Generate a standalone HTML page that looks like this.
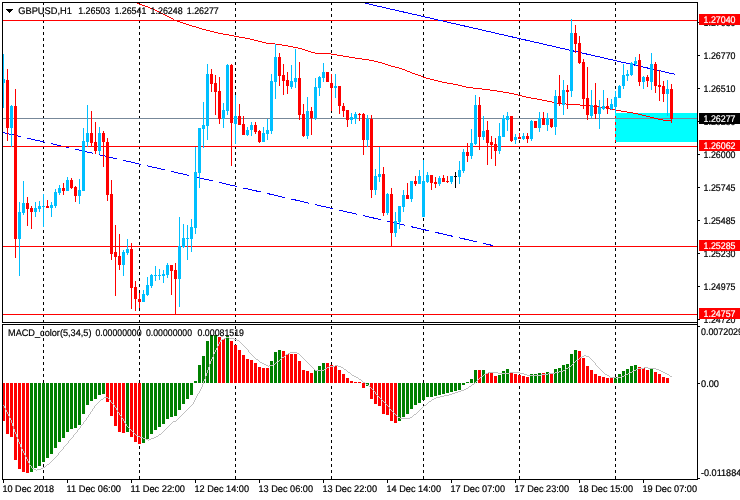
<!DOCTYPE html><html><head><meta charset="utf-8"><title>GBPUSD,H1</title>
<style>html,body{margin:0;padding:0;background:#fff;overflow:hidden}svg{display:block}text{font-family:"Liberation Sans",sans-serif;font-size:9.6px;stroke:#000;stroke-width:0.2px;text-rendering:geometricPrecision}</style></head><body>
<svg width="740" height="500" viewBox="0 0 740 500" shape-rendering="crispEdges">
<rect x="0" y="0" width="740" height="500" fill="#fff"/>
<rect x="615" y="113" width="82" height="29" fill="#00FFFF"/>
<g id="grid">
<line x1="43.5" y1="2" x2="43.5" y2="322" stroke="#000" stroke-width="1" stroke-dasharray="3 3"/>
<line x1="43.5" y1="326" x2="43.5" y2="479" stroke="#000" stroke-width="1" stroke-dasharray="3 3"/>
<line x1="139.5" y1="2" x2="139.5" y2="322" stroke="#000" stroke-width="1" stroke-dasharray="3 3"/>
<line x1="139.5" y1="326" x2="139.5" y2="479" stroke="#000" stroke-width="1" stroke-dasharray="3 3"/>
<line x1="235.5" y1="2" x2="235.5" y2="322" stroke="#000" stroke-width="1" stroke-dasharray="3 3"/>
<line x1="235.5" y1="326" x2="235.5" y2="479" stroke="#000" stroke-width="1" stroke-dasharray="3 3"/>
<line x1="331.5" y1="2" x2="331.5" y2="322" stroke="#000" stroke-width="1" stroke-dasharray="3 3"/>
<line x1="331.5" y1="326" x2="331.5" y2="479" stroke="#000" stroke-width="1" stroke-dasharray="3 3"/>
<line x1="423.5" y1="2" x2="423.5" y2="322" stroke="#000" stroke-width="1" stroke-dasharray="3 3"/>
<line x1="423.5" y1="326" x2="423.5" y2="479" stroke="#000" stroke-width="1" stroke-dasharray="3 3"/>
<line x1="519.5" y1="2" x2="519.5" y2="322" stroke="#000" stroke-width="1" stroke-dasharray="3 3"/>
<line x1="519.5" y1="326" x2="519.5" y2="479" stroke="#000" stroke-width="1" stroke-dasharray="3 3"/>
<line x1="615.5" y1="2" x2="615.5" y2="322" stroke="#000" stroke-width="1" stroke-dasharray="3 3"/>
<line x1="615.5" y1="326" x2="615.5" y2="479" stroke="#000" stroke-width="1" stroke-dasharray="3 3"/>
<line x1="615.5" y1="116" x2="615.5" y2="142" stroke="#f00" stroke-width="1" stroke-dasharray="3 3"/>
</g>
<g id="trend" stroke="#0000FF" stroke-width="1" fill="none">
<line x1="3" y1="132.54" x2="21" y2="136.69"/>
<line x1="27" y1="138.08" x2="45" y2="142.23"/>
<line x1="51" y1="143.61" x2="69" y2="147.76"/>
<line x1="75" y1="149.15" x2="93" y2="153.30"/>
<line x1="99" y1="154.69" x2="117" y2="158.84"/>
<line x1="123" y1="160.22" x2="141" y2="164.38"/>
<line x1="147" y1="165.76" x2="165" y2="169.91"/>
<line x1="171" y1="171.30" x2="189" y2="175.45"/>
<line x1="195" y1="176.83" x2="213" y2="180.99"/>
<line x1="219" y1="182.37" x2="237" y2="186.52"/>
<line x1="243" y1="187.91" x2="261" y2="192.06"/>
<line x1="267" y1="193.44" x2="285" y2="197.60"/>
<line x1="291" y1="198.98" x2="309" y2="203.13"/>
<line x1="315" y1="204.52" x2="333" y2="208.67"/>
<line x1="339" y1="210.05" x2="357" y2="214.21"/>
<line x1="363" y1="215.59" x2="381" y2="219.74"/>
<line x1="387" y1="221.13" x2="405" y2="225.28"/>
<line x1="411" y1="226.66" x2="429" y2="230.82"/>
<line x1="435" y1="232.20" x2="453" y2="236.35"/>
<line x1="459" y1="237.74" x2="477" y2="241.89"/>
<line x1="483" y1="243.27" x2="493" y2="245.58"/>
</g>
<g id="hlines">
<rect x="3" y="20" width="694" height="1" fill="#FF0000"/>
<rect x="3" y="146" width="694" height="1" fill="#FF0000"/>
<rect x="3" y="246" width="694" height="1" fill="#FF0000"/>
<rect x="3" y="314" width="694" height="1" fill="#FF0000"/>
<rect x="3" y="118" width="694" height="1" fill="#778899"/>
</g>
<g stroke="#0000FF" stroke-width="1" fill="none">
<line x1="365" y1="3.16" x2="675.5" y2="74.42"/>
</g>
<path fill="#FF0000" d="M137 3h2v1h-2zM139 4h3v1h-3zM142 5h3v1h-3zM145 6h3v1h-3zM148 7h2v1h-2zM150 8h3v1h-3zM153 9h2v1h-2zM155 10h2v1h-2zM157 11h2v1h-2zM159 12h2v1h-2zM161 13h2v1h-2zM163 14h2v1h-2zM165 15h2v1h-2zM167 16h2v1h-2zM169 17h2v1h-2zM171 18h2v1h-2zM173 19h1v1h-1zM174 20h3v1h-3zM177 21h3v1h-3zM180 22h3v1h-3zM183 23h3v1h-3zM186 24h3v1h-3zM189 25h3v1h-3zM192 26h4v1h-4zM196 27h3v1h-3zM199 28h3v1h-3zM202 29h4v1h-4zM206 30h4v1h-4zM210 31h4v1h-4zM214 32h4v1h-4zM218 33h5v1h-5zM223 34h6v1h-6zM229 35h5v1h-5zM234 36h5v1h-5zM239 37h6v1h-6zM245 38h5v1h-5zM250 39h4v1h-4zM254 40h4v1h-4zM258 41h4v1h-4zM262 42h4v1h-4zM266 43h9v1h-9zM275 44h7v1h-7zM282 45h6v1h-6zM288 46h5v1h-5zM293 47h5v1h-5zM298 48h4v1h-4zM302 49h3v1h-3zM305 50h3v1h-3zM308 51h3v1h-3zM311 52h4v1h-4zM315 53h16v1h-16zM331 54h6v1h-6zM337 55h6v1h-6zM343 56h6v1h-6zM349 57h6v1h-6zM355 58h7v1h-7zM362 59h7v1h-7zM369 60h5v1h-5zM374 61h4v1h-4zM378 62h4v1h-4zM382 63h3v1h-3zM385 64h3v1h-3zM388 65h3v1h-3zM391 66h4v1h-4zM395 67h4v1h-4zM399 68h3v1h-3zM402 69h3v1h-3zM405 70h2v1h-2zM407 71h3v1h-3zM410 72h2v1h-2zM412 73h3v1h-3zM415 74h3v1h-3zM418 75h3v1h-3zM421 76h2v1h-2zM423 77h3v1h-3zM426 78h4v1h-4zM430 79h4v1h-4zM434 80h4v1h-4zM438 81h4v1h-4zM442 82h5v1h-5zM447 83h6v1h-6zM453 84h5v1h-5zM458 85h4v1h-4zM462 86h4v1h-4zM466 87h7v1h-7zM473 88h9v1h-9zM482 89h8v1h-8zM490 90h7v1h-7zM497 91h6v1h-6zM503 92h6v1h-6zM509 93h5v1h-5zM514 94h4v1h-4zM518 95h4v1h-4zM522 96h4v1h-4zM526 97h5v1h-5zM531 98h6v1h-6zM537 99h5v1h-5zM542 100h5v1h-5zM547 101h5v1h-5zM552 102h4v1h-4zM556 103h10v1h-10zM566 104h14v1h-14zM580 105h10v1h-10zM590 106h9v1h-9zM599 107h7v1h-7zM606 108h4v1h-4zM610 109h5v1h-5zM615 110h6v1h-6zM621 111h6v1h-6zM627 112h6v1h-6zM633 113h5v1h-5zM638 114h4v1h-4zM642 115h4v1h-4zM646 116h4v1h-4zM650 117h4v1h-4zM654 118h4v1h-4zM658 119h5v1h-5zM663 120h9v1h-9z"/>
<g id="candles">
<rect x="3" y="54" width="1" height="54" fill="#00BFFF"/>
<rect x="2" y="79" width="3" height="4" fill="#00BFFF"/>
<rect x="7" y="69" width="1" height="72" fill="#FF0000"/>
<rect x="6" y="80" width="3" height="48" fill="#FF0000"/>
<rect x="11" y="105" width="1" height="42" fill="#00BFFF"/>
<rect x="10" y="106" width="3" height="22" fill="#00BFFF"/>
<rect x="15" y="89" width="1" height="169" fill="#FF0000"/>
<rect x="14" y="106" width="3" height="133" fill="#FF0000"/>
<rect x="19" y="202" width="1" height="74" fill="#00BFFF"/>
<rect x="18" y="212" width="3" height="27" fill="#00BFFF"/>
<rect x="23" y="181" width="1" height="34" fill="#00BFFF"/>
<rect x="22" y="203" width="3" height="10" fill="#00BFFF"/>
<rect x="27" y="197" width="1" height="29" fill="#FF0000"/>
<rect x="26" y="203" width="3" height="6" fill="#FF0000"/>
<rect x="31" y="206" width="1" height="23" fill="#FF0000"/>
<rect x="30" y="208" width="3" height="4" fill="#FF0000"/>
<rect x="35" y="202" width="1" height="15" fill="#00BFFF"/>
<rect x="34" y="208" width="3" height="4" fill="#00BFFF"/>
<rect x="39" y="201" width="1" height="11" fill="#00BFFF"/>
<rect x="38" y="206" width="3" height="3" fill="#00BFFF"/>
<rect x="43" y="194" width="1" height="33" fill="#00BFFF"/>
<rect x="42" y="206" width="3" height="1" fill="#00BFFF"/>
<rect x="47" y="200" width="1" height="8" fill="#FF0000"/>
<rect x="46" y="206" width="3" height="2" fill="#FF0000"/>
<rect x="51" y="202" width="1" height="15" fill="#00BFFF"/>
<rect x="50" y="205" width="3" height="3" fill="#00BFFF"/>
<rect x="55" y="189" width="1" height="19" fill="#00BFFF"/>
<rect x="54" y="192" width="3" height="14" fill="#00BFFF"/>
<rect x="59" y="185" width="1" height="10" fill="#00BFFF"/>
<rect x="58" y="188" width="3" height="5" fill="#00BFFF"/>
<rect x="63" y="183" width="1" height="12" fill="#FF0000"/>
<rect x="62" y="188" width="3" height="3" fill="#FF0000"/>
<rect x="67" y="177" width="1" height="14" fill="#00BFFF"/>
<rect x="66" y="180" width="3" height="11" fill="#00BFFF"/>
<rect x="71" y="178" width="1" height="11" fill="#FF0000"/>
<rect x="70" y="180" width="3" height="8" fill="#FF0000"/>
<rect x="75" y="186" width="1" height="16" fill="#FF0000"/>
<rect x="74" y="187" width="3" height="9" fill="#FF0000"/>
<rect x="79" y="179" width="1" height="25" fill="#00BFFF"/>
<rect x="78" y="190" width="3" height="6" fill="#00BFFF"/>
<rect x="83" y="128" width="1" height="63" fill="#00BFFF"/>
<rect x="82" y="141" width="3" height="50" fill="#00BFFF"/>
<rect x="87" y="105" width="1" height="42" fill="#00BFFF"/>
<rect x="86" y="133" width="3" height="9" fill="#00BFFF"/>
<rect x="91" y="111" width="1" height="35" fill="#FF0000"/>
<rect x="90" y="133" width="3" height="10" fill="#FF0000"/>
<rect x="95" y="122" width="1" height="32" fill="#FF0000"/>
<rect x="94" y="142" width="3" height="9" fill="#FF0000"/>
<rect x="99" y="127" width="1" height="27" fill="#00BFFF"/>
<rect x="98" y="133" width="3" height="18" fill="#00BFFF"/>
<rect x="103" y="131" width="1" height="36" fill="#FF0000"/>
<rect x="102" y="133" width="3" height="9" fill="#FF0000"/>
<rect x="107" y="138" width="1" height="63" fill="#FF0000"/>
<rect x="106" y="142" width="3" height="53" fill="#FF0000"/>
<rect x="111" y="180" width="1" height="80" fill="#FF0000"/>
<rect x="110" y="194" width="3" height="60" fill="#FF0000"/>
<rect x="115" y="225" width="1" height="71" fill="#FF0000"/>
<rect x="114" y="252" width="3" height="5" fill="#FF0000"/>
<rect x="119" y="234" width="1" height="36" fill="#FF0000"/>
<rect x="118" y="256" width="3" height="9" fill="#FF0000"/>
<rect x="123" y="250" width="1" height="26" fill="#00BFFF"/>
<rect x="122" y="252" width="3" height="13" fill="#00BFFF"/>
<rect x="127" y="239" width="1" height="16" fill="#00BFFF"/>
<rect x="126" y="249" width="3" height="4" fill="#00BFFF"/>
<rect x="131" y="243" width="1" height="66" fill="#FF0000"/>
<rect x="130" y="249" width="3" height="39" fill="#FF0000"/>
<rect x="135" y="281" width="1" height="30" fill="#FF0000"/>
<rect x="134" y="287" width="3" height="12" fill="#FF0000"/>
<rect x="139" y="293" width="1" height="15" fill="#FF0000"/>
<rect x="138" y="299" width="3" height="3" fill="#FF0000"/>
<rect x="143" y="290" width="1" height="12" fill="#00BFFF"/>
<rect x="142" y="294" width="3" height="8" fill="#00BFFF"/>
<rect x="147" y="277" width="1" height="19" fill="#00BFFF"/>
<rect x="146" y="285" width="3" height="10" fill="#00BFFF"/>
<rect x="151" y="274" width="1" height="14" fill="#00BFFF"/>
<rect x="150" y="275" width="3" height="11" fill="#00BFFF"/>
<rect x="155" y="266" width="1" height="15" fill="#00BFFF"/>
<rect x="154" y="275" width="3" height="1" fill="#00BFFF"/>
<rect x="159" y="269" width="1" height="11" fill="#00BFFF"/>
<rect x="158" y="275" width="3" height="1" fill="#00BFFF"/>
<rect x="163" y="270" width="1" height="13" fill="#00BFFF"/>
<rect x="162" y="274" width="3" height="2" fill="#00BFFF"/>
<rect x="167" y="263" width="1" height="15" fill="#00BFFF"/>
<rect x="166" y="265" width="3" height="10" fill="#00BFFF"/>
<rect x="171" y="265" width="1" height="30" fill="#FF0000"/>
<rect x="170" y="265" width="3" height="6" fill="#FF0000"/>
<rect x="175" y="263" width="1" height="51" fill="#FF0000"/>
<rect x="174" y="270" width="3" height="9" fill="#FF0000"/>
<rect x="179" y="217" width="1" height="90" fill="#00BFFF"/>
<rect x="178" y="246" width="3" height="33" fill="#00BFFF"/>
<rect x="183" y="224" width="1" height="24" fill="#00BFFF"/>
<rect x="182" y="238" width="3" height="9" fill="#00BFFF"/>
<rect x="187" y="225" width="1" height="35" fill="#00BFFF"/>
<rect x="186" y="238" width="3" height="1" fill="#00BFFF"/>
<rect x="191" y="219" width="1" height="33" fill="#00BFFF"/>
<rect x="190" y="227" width="3" height="12" fill="#00BFFF"/>
<rect x="195" y="147" width="1" height="87" fill="#00BFFF"/>
<rect x="194" y="172" width="3" height="56" fill="#00BFFF"/>
<rect x="199" y="128" width="1" height="60" fill="#00BFFF"/>
<rect x="198" y="128" width="3" height="45" fill="#00BFFF"/>
<rect x="203" y="102" width="1" height="46" fill="#00BFFF"/>
<rect x="202" y="125" width="3" height="4" fill="#00BFFF"/>
<rect x="207" y="64" width="1" height="76" fill="#00BFFF"/>
<rect x="206" y="74" width="3" height="52" fill="#00BFFF"/>
<rect x="211" y="69" width="1" height="23" fill="#FF0000"/>
<rect x="210" y="74" width="3" height="10" fill="#FF0000"/>
<rect x="215" y="75" width="1" height="40" fill="#FF0000"/>
<rect x="214" y="83" width="3" height="9" fill="#FF0000"/>
<rect x="219" y="77" width="1" height="47" fill="#FF0000"/>
<rect x="218" y="91" width="3" height="28" fill="#FF0000"/>
<rect x="223" y="103" width="1" height="25" fill="#00BFFF"/>
<rect x="222" y="110" width="3" height="9" fill="#00BFFF"/>
<rect x="227" y="64" width="1" height="51" fill="#00BFFF"/>
<rect x="226" y="65" width="3" height="46" fill="#00BFFF"/>
<rect x="231" y="64" width="1" height="102" fill="#FF0000"/>
<rect x="230" y="65" width="3" height="58" fill="#FF0000"/>
<rect x="235" y="95" width="1" height="49" fill="#00BFFF"/>
<rect x="234" y="116" width="3" height="8" fill="#00BFFF"/>
<rect x="239" y="104" width="1" height="21" fill="#FF0000"/>
<rect x="238" y="116" width="3" height="9" fill="#FF0000"/>
<rect x="243" y="116" width="1" height="19" fill="#FF0000"/>
<rect x="242" y="124" width="3" height="11" fill="#FF0000"/>
<rect x="247" y="127" width="1" height="9" fill="#00BFFF"/>
<rect x="246" y="130" width="3" height="5" fill="#00BFFF"/>
<rect x="251" y="122" width="1" height="14" fill="#00BFFF"/>
<rect x="250" y="125" width="3" height="5" fill="#00BFFF"/>
<rect x="255" y="122" width="1" height="12" fill="#FF0000"/>
<rect x="254" y="125" width="3" height="7" fill="#FF0000"/>
<rect x="259" y="130" width="1" height="13" fill="#FF0000"/>
<rect x="258" y="131" width="3" height="11" fill="#FF0000"/>
<rect x="263" y="127" width="1" height="15" fill="#00BFFF"/>
<rect x="262" y="133" width="3" height="9" fill="#00BFFF"/>
<rect x="267" y="119" width="1" height="21" fill="#00BFFF"/>
<rect x="266" y="130" width="3" height="4" fill="#00BFFF"/>
<rect x="271" y="74" width="1" height="60" fill="#00BFFF"/>
<rect x="270" y="81" width="3" height="50" fill="#00BFFF"/>
<rect x="275" y="44" width="1" height="55" fill="#00BFFF"/>
<rect x="274" y="57" width="3" height="25" fill="#00BFFF"/>
<rect x="279" y="53" width="1" height="33" fill="#FF0000"/>
<rect x="278" y="57" width="3" height="19" fill="#FF0000"/>
<rect x="283" y="64" width="1" height="31" fill="#FF0000"/>
<rect x="282" y="75" width="3" height="6" fill="#FF0000"/>
<rect x="287" y="72" width="1" height="22" fill="#FF0000"/>
<rect x="286" y="80" width="3" height="6" fill="#FF0000"/>
<rect x="291" y="65" width="1" height="24" fill="#00BFFF"/>
<rect x="290" y="81" width="3" height="6" fill="#00BFFF"/>
<rect x="295" y="49" width="1" height="39" fill="#00BFFF"/>
<rect x="294" y="78" width="3" height="4" fill="#00BFFF"/>
<rect x="299" y="62" width="1" height="58" fill="#FF0000"/>
<rect x="298" y="78" width="3" height="37" fill="#FF0000"/>
<rect x="303" y="104" width="1" height="33" fill="#FF0000"/>
<rect x="302" y="114" width="3" height="22" fill="#FF0000"/>
<rect x="307" y="97" width="1" height="42" fill="#00BFFF"/>
<rect x="306" y="111" width="3" height="25" fill="#00BFFF"/>
<rect x="311" y="107" width="1" height="28" fill="#FF0000"/>
<rect x="310" y="111" width="3" height="7" fill="#FF0000"/>
<rect x="315" y="78" width="1" height="42" fill="#00BFFF"/>
<rect x="314" y="87" width="3" height="31" fill="#00BFFF"/>
<rect x="319" y="76" width="1" height="20" fill="#00BFFF"/>
<rect x="318" y="77" width="3" height="11" fill="#00BFFF"/>
<rect x="323" y="63" width="1" height="19" fill="#00BFFF"/>
<rect x="322" y="72" width="3" height="6" fill="#00BFFF"/>
<rect x="327" y="72" width="1" height="10" fill="#FF0000"/>
<rect x="326" y="72" width="3" height="10" fill="#FF0000"/>
<rect x="331" y="74" width="1" height="37" fill="#FF0000"/>
<rect x="330" y="83" width="3" height="5" fill="#FF0000"/>
<rect x="335" y="74" width="1" height="24" fill="#00BFFF"/>
<rect x="334" y="86" width="3" height="2" fill="#00BFFF"/>
<rect x="339" y="86" width="1" height="28" fill="#FF0000"/>
<rect x="338" y="86" width="3" height="20" fill="#FF0000"/>
<rect x="343" y="103" width="1" height="14" fill="#FF0000"/>
<rect x="342" y="106" width="3" height="5" fill="#FF0000"/>
<rect x="347" y="110" width="1" height="17" fill="#FF0000"/>
<rect x="346" y="110" width="3" height="10" fill="#FF0000"/>
<rect x="351" y="113" width="1" height="11" fill="#00BFFF"/>
<rect x="350" y="117" width="3" height="3" fill="#00BFFF"/>
<rect x="355" y="112" width="1" height="12" fill="#00BFFF"/>
<rect x="354" y="114" width="3" height="5" fill="#00BFFF"/>
<rect x="359" y="113" width="1" height="8" fill="#FF0000"/>
<rect x="358" y="114" width="3" height="1" fill="#FF0000"/>
<rect x="363" y="113" width="1" height="42" fill="#FF0000"/>
<rect x="362" y="114" width="3" height="26" fill="#FF0000"/>
<rect x="367" y="115" width="1" height="32" fill="#00BFFF"/>
<rect x="366" y="119" width="3" height="21" fill="#00BFFF"/>
<rect x="371" y="115" width="1" height="83" fill="#FF0000"/>
<rect x="370" y="119" width="3" height="71" fill="#FF0000"/>
<rect x="375" y="169" width="1" height="26" fill="#00BFFF"/>
<rect x="374" y="176" width="3" height="14" fill="#00BFFF"/>
<rect x="379" y="147" width="1" height="35" fill="#00BFFF"/>
<rect x="378" y="174" width="3" height="3" fill="#00BFFF"/>
<rect x="383" y="167" width="1" height="49" fill="#FF0000"/>
<rect x="382" y="174" width="3" height="39" fill="#FF0000"/>
<rect x="387" y="193" width="1" height="22" fill="#00BFFF"/>
<rect x="386" y="194" width="3" height="19" fill="#00BFFF"/>
<rect x="391" y="188" width="1" height="58" fill="#FF0000"/>
<rect x="390" y="194" width="3" height="39" fill="#FF0000"/>
<rect x="395" y="212" width="1" height="25" fill="#00BFFF"/>
<rect x="394" y="221" width="3" height="12" fill="#00BFFF"/>
<rect x="399" y="206" width="1" height="23" fill="#00BFFF"/>
<rect x="398" y="206" width="3" height="16" fill="#00BFFF"/>
<rect x="403" y="190" width="1" height="22" fill="#00BFFF"/>
<rect x="402" y="195" width="3" height="12" fill="#00BFFF"/>
<rect x="407" y="183" width="1" height="16" fill="#FF0000"/>
<rect x="406" y="195" width="3" height="4" fill="#FF0000"/>
<rect x="411" y="181" width="1" height="21" fill="#00BFFF"/>
<rect x="410" y="181" width="3" height="18" fill="#00BFFF"/>
<rect x="415" y="176" width="1" height="10" fill="#FF0000"/>
<rect x="414" y="181" width="3" height="3" fill="#FF0000"/>
<rect x="419" y="170" width="1" height="14" fill="#00BFFF"/>
<rect x="418" y="176" width="3" height="8" fill="#00BFFF"/>
<rect x="423" y="160" width="1" height="57" fill="#00BFFF"/>
<rect x="422" y="181" width="3" height="36" fill="#00BFFF"/>
<rect x="427" y="172" width="1" height="11" fill="#00BFFF"/>
<rect x="426" y="175" width="3" height="7" fill="#00BFFF"/>
<rect x="431" y="175" width="1" height="15" fill="#FF0000"/>
<rect x="430" y="175" width="3" height="8" fill="#FF0000"/>
<rect x="435" y="177" width="1" height="11" fill="#FF0000"/>
<rect x="434" y="182" width="3" height="2" fill="#FF0000"/>
<rect x="439" y="176" width="1" height="10" fill="#00BFFF"/>
<rect x="438" y="178" width="3" height="6" fill="#00BFFF"/>
<rect x="443" y="175" width="1" height="7" fill="#FF0000"/>
<rect x="442" y="178" width="3" height="4" fill="#FF0000"/>
<rect x="447" y="176" width="1" height="7" fill="#FF0000"/>
<rect x="446" y="181" width="3" height="1" fill="#FF0000"/>
<rect x="451" y="176" width="1" height="8" fill="#00BFFF"/>
<rect x="450" y="176" width="3" height="6" fill="#00BFFF"/>
<rect x="455" y="172" width="1" height="16" fill="#000"/>
<rect x="454" y="176" width="3" height="1" fill="#000"/>
<rect x="459" y="161" width="1" height="23" fill="#00BFFF"/>
<rect x="458" y="170" width="3" height="7" fill="#00BFFF"/>
<rect x="463" y="149" width="1" height="24" fill="#00BFFF"/>
<rect x="462" y="152" width="3" height="19" fill="#00BFFF"/>
<rect x="467" y="143" width="1" height="19" fill="#FF0000"/>
<rect x="466" y="152" width="3" height="4" fill="#FF0000"/>
<rect x="471" y="129" width="1" height="30" fill="#00BFFF"/>
<rect x="470" y="143" width="3" height="13" fill="#00BFFF"/>
<rect x="475" y="95" width="1" height="50" fill="#00BFFF"/>
<rect x="474" y="105" width="3" height="39" fill="#00BFFF"/>
<rect x="479" y="97" width="1" height="53" fill="#FF0000"/>
<rect x="478" y="105" width="3" height="32" fill="#FF0000"/>
<rect x="483" y="116" width="1" height="24" fill="#00BFFF"/>
<rect x="482" y="131" width="3" height="6" fill="#00BFFF"/>
<rect x="487" y="121" width="1" height="44" fill="#FF0000"/>
<rect x="486" y="130" width="3" height="13" fill="#FF0000"/>
<rect x="491" y="136" width="1" height="23" fill="#FF0000"/>
<rect x="490" y="142" width="3" height="3" fill="#FF0000"/>
<rect x="495" y="138" width="1" height="28" fill="#FF0000"/>
<rect x="494" y="144" width="3" height="7" fill="#FF0000"/>
<rect x="499" y="123" width="1" height="31" fill="#00BFFF"/>
<rect x="498" y="136" width="3" height="15" fill="#00BFFF"/>
<rect x="503" y="115" width="1" height="22" fill="#00BFFF"/>
<rect x="502" y="118" width="3" height="19" fill="#00BFFF"/>
<rect x="507" y="112" width="1" height="19" fill="#00BFFF"/>
<rect x="506" y="116" width="3" height="4" fill="#00BFFF"/>
<rect x="511" y="116" width="1" height="26" fill="#FF0000"/>
<rect x="510" y="116" width="3" height="25" fill="#FF0000"/>
<rect x="515" y="134" width="1" height="10" fill="#00BFFF"/>
<rect x="514" y="137" width="3" height="3" fill="#00BFFF"/>
<rect x="519" y="133" width="1" height="6" fill="#FF0000"/>
<rect x="518" y="137" width="3" height="2" fill="#FF0000"/>
<rect x="523" y="133" width="1" height="7" fill="#00BFFF"/>
<rect x="522" y="136" width="3" height="3" fill="#00BFFF"/>
<rect x="527" y="133" width="1" height="10" fill="#FF0000"/>
<rect x="526" y="136" width="3" height="3" fill="#FF0000"/>
<rect x="531" y="120" width="1" height="21" fill="#00BFFF"/>
<rect x="530" y="121" width="3" height="18" fill="#00BFFF"/>
<rect x="535" y="121" width="1" height="7" fill="#FF0000"/>
<rect x="534" y="121" width="3" height="7" fill="#FF0000"/>
<rect x="539" y="112" width="1" height="20" fill="#00BFFF"/>
<rect x="538" y="118" width="3" height="10" fill="#00BFFF"/>
<rect x="543" y="112" width="1" height="13" fill="#FF0000"/>
<rect x="542" y="118" width="3" height="7" fill="#FF0000"/>
<rect x="547" y="113" width="1" height="18" fill="#00BFFF"/>
<rect x="546" y="118" width="3" height="7" fill="#00BFFF"/>
<rect x="551" y="119" width="1" height="9" fill="#FF0000"/>
<rect x="550" y="119" width="3" height="8" fill="#FF0000"/>
<rect x="555" y="90" width="1" height="45" fill="#00BFFF"/>
<rect x="554" y="96" width="3" height="31" fill="#00BFFF"/>
<rect x="559" y="75" width="1" height="31" fill="#FF0000"/>
<rect x="558" y="96" width="3" height="8" fill="#FF0000"/>
<rect x="563" y="80" width="1" height="35" fill="#00BFFF"/>
<rect x="562" y="90" width="3" height="15" fill="#00BFFF"/>
<rect x="567" y="85" width="1" height="24" fill="#FF0000"/>
<rect x="566" y="90" width="3" height="2" fill="#FF0000"/>
<rect x="571" y="19" width="1" height="78" fill="#00BFFF"/>
<rect x="570" y="33" width="3" height="58" fill="#00BFFF"/>
<rect x="575" y="25" width="1" height="28" fill="#FF0000"/>
<rect x="574" y="33" width="3" height="11" fill="#FF0000"/>
<rect x="579" y="36" width="1" height="28" fill="#FF0000"/>
<rect x="578" y="43" width="3" height="20" fill="#FF0000"/>
<rect x="583" y="59" width="1" height="50" fill="#FF0000"/>
<rect x="582" y="62" width="3" height="37" fill="#FF0000"/>
<rect x="587" y="67" width="1" height="53" fill="#FF0000"/>
<rect x="586" y="98" width="3" height="17" fill="#FF0000"/>
<rect x="591" y="90" width="1" height="28" fill="#00BFFF"/>
<rect x="590" y="105" width="3" height="11" fill="#00BFFF"/>
<rect x="595" y="83" width="1" height="36" fill="#FF0000"/>
<rect x="594" y="105" width="3" height="9" fill="#FF0000"/>
<rect x="599" y="100" width="1" height="29" fill="#00BFFF"/>
<rect x="598" y="107" width="3" height="7" fill="#00BFFF"/>
<rect x="603" y="90" width="1" height="20" fill="#00BFFF"/>
<rect x="602" y="106" width="3" height="3" fill="#00BFFF"/>
<rect x="607" y="98" width="1" height="16" fill="#FF0000"/>
<rect x="606" y="106" width="3" height="3" fill="#FF0000"/>
<rect x="611" y="99" width="1" height="11" fill="#00BFFF"/>
<rect x="610" y="104" width="3" height="5" fill="#00BFFF"/>
<rect x="615" y="91" width="1" height="22" fill="#00BFFF"/>
<rect x="614" y="97" width="3" height="10" fill="#00BFFF"/>
<rect x="619" y="85" width="1" height="13" fill="#00BFFF"/>
<rect x="618" y="86" width="3" height="12" fill="#00BFFF"/>
<rect x="623" y="64" width="1" height="25" fill="#00BFFF"/>
<rect x="622" y="75" width="3" height="11" fill="#00BFFF"/>
<rect x="627" y="70" width="1" height="11" fill="#00BFFF"/>
<rect x="626" y="74" width="3" height="2" fill="#00BFFF"/>
<rect x="631" y="62" width="1" height="14" fill="#00BFFF"/>
<rect x="630" y="63" width="3" height="12" fill="#00BFFF"/>
<rect x="635" y="57" width="1" height="9" fill="#00BFFF"/>
<rect x="634" y="61" width="3" height="3" fill="#00BFFF"/>
<rect x="639" y="54" width="1" height="32" fill="#FF0000"/>
<rect x="638" y="60" width="3" height="22" fill="#FF0000"/>
<rect x="643" y="76" width="1" height="13" fill="#00BFFF"/>
<rect x="642" y="77" width="3" height="5" fill="#00BFFF"/>
<rect x="647" y="75" width="1" height="12" fill="#FF0000"/>
<rect x="646" y="77" width="3" height="4" fill="#FF0000"/>
<rect x="651" y="53" width="1" height="37" fill="#00BFFF"/>
<rect x="650" y="64" width="3" height="18" fill="#00BFFF"/>
<rect x="655" y="62" width="1" height="31" fill="#FF0000"/>
<rect x="654" y="64" width="3" height="22" fill="#FF0000"/>
<rect x="659" y="70" width="1" height="31" fill="#FF0000"/>
<rect x="658" y="85" width="3" height="2" fill="#FF0000"/>
<rect x="663" y="81" width="1" height="21" fill="#FF0000"/>
<rect x="662" y="86" width="3" height="8" fill="#FF0000"/>
<rect x="667" y="80" width="1" height="36" fill="#00BFFF"/>
<rect x="666" y="89" width="3" height="5" fill="#00BFFF"/>
<rect x="671" y="84" width="1" height="39" fill="#FF0000"/>
<rect x="670" y="89" width="3" height="30" fill="#FF0000"/>
</g>
<g id="macd">
<rect x="2" y="383" width="3" height="38" fill="#FF0000"/>
<rect x="6" y="383" width="3" height="51" fill="#FF0000"/>
<rect x="10" y="383" width="3" height="54" fill="#FF0000"/>
<rect x="14" y="383" width="3" height="77" fill="#FF0000"/>
<rect x="18" y="383" width="3" height="86" fill="#FF0000"/>
<rect x="22" y="383" width="3" height="89" fill="#FF0000"/>
<rect x="26" y="383" width="3" height="90" fill="#FF0000"/>
<rect x="30" y="383" width="3" height="89" fill="#008000"/>
<rect x="34" y="383" width="3" height="85" fill="#008000"/>
<rect x="38" y="383" width="3" height="83" fill="#008000"/>
<rect x="42" y="383" width="3" height="79" fill="#008000"/>
<rect x="46" y="383" width="3" height="75" fill="#008000"/>
<rect x="50" y="383" width="3" height="71" fill="#008000"/>
<rect x="54" y="383" width="3" height="65" fill="#008000"/>
<rect x="58" y="383" width="3" height="59" fill="#008000"/>
<rect x="62" y="383" width="3" height="55" fill="#008000"/>
<rect x="66" y="383" width="3" height="49" fill="#008000"/>
<rect x="70" y="383" width="3" height="46" fill="#008000"/>
<rect x="74" y="383" width="3" height="45" fill="#008000"/>
<rect x="78" y="383" width="3" height="42" fill="#008000"/>
<rect x="82" y="383" width="3" height="31" fill="#008000"/>
<rect x="86" y="383" width="3" height="22" fill="#008000"/>
<rect x="90" y="383" width="3" height="18" fill="#008000"/>
<rect x="94" y="383" width="3" height="16" fill="#008000"/>
<rect x="98" y="383" width="3" height="12" fill="#008000"/>
<rect x="102" y="383" width="3" height="11" fill="#008000"/>
<rect x="106" y="383" width="3" height="19" fill="#FF0000"/>
<rect x="110" y="383" width="3" height="33" fill="#FF0000"/>
<rect x="114" y="383" width="3" height="43" fill="#FF0000"/>
<rect x="118" y="383" width="3" height="49" fill="#FF0000"/>
<rect x="122" y="383" width="3" height="50" fill="#FF0000"/>
<rect x="126" y="383" width="3" height="49" fill="#008000"/>
<rect x="130" y="383" width="3" height="54" fill="#FF0000"/>
<rect x="134" y="383" width="3" height="59" fill="#FF0000"/>
<rect x="138" y="383" width="3" height="61" fill="#FF0000"/>
<rect x="142" y="383" width="3" height="60" fill="#008000"/>
<rect x="146" y="383" width="3" height="56" fill="#008000"/>
<rect x="150" y="383" width="3" height="51" fill="#008000"/>
<rect x="154" y="383" width="3" height="47" fill="#008000"/>
<rect x="158" y="383" width="3" height="44" fill="#008000"/>
<rect x="162" y="383" width="3" height="41" fill="#008000"/>
<rect x="166" y="383" width="3" height="36" fill="#008000"/>
<rect x="170" y="383" width="3" height="34" fill="#008000"/>
<rect x="174" y="383" width="3" height="33" fill="#008000"/>
<rect x="178" y="383" width="3" height="27" fill="#008000"/>
<rect x="182" y="383" width="3" height="21" fill="#008000"/>
<rect x="186" y="383" width="3" height="16" fill="#008000"/>
<rect x="190" y="383" width="3" height="12" fill="#008000"/>
<rect x="194" y="381" width="3" height="2" fill="#008000"/>
<rect x="198" y="365" width="3" height="18" fill="#008000"/>
<rect x="202" y="356" width="3" height="27" fill="#008000"/>
<rect x="206" y="341" width="3" height="42" fill="#008000"/>
<rect x="210" y="335" width="3" height="48" fill="#008000"/>
<rect x="214" y="335" width="3" height="48" fill="#008000"/>
<rect x="218" y="337" width="3" height="46" fill="#FF0000"/>
<rect x="222" y="339" width="3" height="44" fill="#FF0000"/>
<rect x="226" y="336" width="3" height="47" fill="#008000"/>
<rect x="230" y="341" width="3" height="42" fill="#FF0000"/>
<rect x="234" y="345" width="3" height="38" fill="#FF0000"/>
<rect x="238" y="350" width="3" height="33" fill="#FF0000"/>
<rect x="242" y="355" width="3" height="28" fill="#FF0000"/>
<rect x="246" y="359" width="3" height="24" fill="#FF0000"/>
<rect x="250" y="360" width="3" height="23" fill="#FF0000"/>
<rect x="254" y="363" width="3" height="20" fill="#FF0000"/>
<rect x="258" y="367" width="3" height="16" fill="#FF0000"/>
<rect x="262" y="368" width="3" height="15" fill="#FF0000"/>
<rect x="266" y="368" width="3" height="15" fill="#FF0000"/>
<rect x="270" y="361" width="3" height="22" fill="#008000"/>
<rect x="274" y="352" width="3" height="31" fill="#008000"/>
<rect x="278" y="350" width="3" height="33" fill="#008000"/>
<rect x="282" y="351" width="3" height="32" fill="#FF0000"/>
<rect x="286" y="354" width="3" height="29" fill="#FF0000"/>
<rect x="290" y="354" width="3" height="29" fill="#FF0000"/>
<rect x="294" y="354" width="3" height="29" fill="#FF0000"/>
<rect x="298" y="361" width="3" height="22" fill="#FF0000"/>
<rect x="302" y="370" width="3" height="13" fill="#FF0000"/>
<rect x="306" y="371" width="3" height="12" fill="#FF0000"/>
<rect x="310" y="373" width="3" height="10" fill="#FF0000"/>
<rect x="314" y="370" width="3" height="13" fill="#008000"/>
<rect x="318" y="366" width="3" height="17" fill="#008000"/>
<rect x="322" y="363" width="3" height="20" fill="#008000"/>
<rect x="326" y="363" width="3" height="20" fill="#FF0000"/>
<rect x="330" y="365" width="3" height="18" fill="#FF0000"/>
<rect x="334" y="366" width="3" height="17" fill="#FF0000"/>
<rect x="338" y="370" width="3" height="13" fill="#FF0000"/>
<rect x="342" y="374" width="3" height="9" fill="#FF0000"/>
<rect x="346" y="378" width="3" height="5" fill="#FF0000"/>
<rect x="350" y="381" width="3" height="2" fill="#FF0000"/>
<rect x="354" y="382" width="3" height="1" fill="#FF0000"/>
<rect x="358" y="382" width="3" height="1" fill="#FF0000"/>
<rect x="362" y="383" width="3" height="5" fill="#FF0000"/>
<rect x="366" y="383" width="3" height="3" fill="#008000"/>
<rect x="370" y="383" width="3" height="16" fill="#FF0000"/>
<rect x="374" y="383" width="3" height="21" fill="#FF0000"/>
<rect x="378" y="383" width="3" height="23" fill="#FF0000"/>
<rect x="382" y="383" width="3" height="31" fill="#FF0000"/>
<rect x="386" y="383" width="3" height="32" fill="#FF0000"/>
<rect x="390" y="383" width="3" height="38" fill="#FF0000"/>
<rect x="394" y="383" width="3" height="40" fill="#FF0000"/>
<rect x="398" y="383" width="3" height="38" fill="#008000"/>
<rect x="402" y="383" width="3" height="34" fill="#008000"/>
<rect x="406" y="383" width="3" height="31" fill="#008000"/>
<rect x="410" y="383" width="3" height="26" fill="#008000"/>
<rect x="414" y="383" width="3" height="22" fill="#008000"/>
<rect x="418" y="383" width="3" height="20" fill="#008000"/>
<rect x="422" y="383" width="3" height="17" fill="#008000"/>
<rect x="426" y="383" width="3" height="14" fill="#008000"/>
<rect x="430" y="383" width="3" height="14" fill="#008000"/>
<rect x="434" y="383" width="3" height="13" fill="#008000"/>
<rect x="438" y="383" width="3" height="12" fill="#008000"/>
<rect x="442" y="383" width="3" height="11" fill="#008000"/>
<rect x="446" y="383" width="3" height="10" fill="#008000"/>
<rect x="450" y="383" width="3" height="9" fill="#008000"/>
<rect x="454" y="383" width="3" height="8" fill="#008000"/>
<rect x="458" y="383" width="3" height="7" fill="#008000"/>
<rect x="462" y="383" width="3" height="2" fill="#008000"/>
<rect x="466" y="382" width="3" height="1" fill="#008000"/>
<rect x="470" y="379" width="3" height="4" fill="#008000"/>
<rect x="474" y="370" width="3" height="13" fill="#008000"/>
<rect x="478" y="370" width="3" height="13" fill="#FF0000"/>
<rect x="482" y="370" width="3" height="13" fill="#008000"/>
<rect x="486" y="373" width="3" height="10" fill="#FF0000"/>
<rect x="490" y="373" width="3" height="10" fill="#FF0000"/>
<rect x="494" y="376" width="3" height="7" fill="#FF0000"/>
<rect x="498" y="375" width="3" height="8" fill="#008000"/>
<rect x="502" y="371" width="3" height="12" fill="#008000"/>
<rect x="506" y="369" width="3" height="14" fill="#008000"/>
<rect x="510" y="372" width="3" height="11" fill="#FF0000"/>
<rect x="514" y="374" width="3" height="9" fill="#FF0000"/>
<rect x="518" y="375" width="3" height="8" fill="#FF0000"/>
<rect x="522" y="376" width="3" height="7" fill="#FF0000"/>
<rect x="526" y="377" width="3" height="6" fill="#FF0000"/>
<rect x="530" y="374" width="3" height="9" fill="#008000"/>
<rect x="534" y="374" width="3" height="9" fill="#008000"/>
<rect x="538" y="373" width="3" height="10" fill="#008000"/>
<rect x="542" y="373" width="3" height="10" fill="#FF0000"/>
<rect x="546" y="372" width="3" height="11" fill="#008000"/>
<rect x="550" y="374" width="3" height="9" fill="#FF0000"/>
<rect x="554" y="369" width="3" height="14" fill="#008000"/>
<rect x="558" y="368" width="3" height="15" fill="#008000"/>
<rect x="562" y="365" width="3" height="18" fill="#008000"/>
<rect x="566" y="364" width="3" height="19" fill="#008000"/>
<rect x="570" y="354" width="3" height="29" fill="#008000"/>
<rect x="574" y="350" width="3" height="33" fill="#008000"/>
<rect x="578" y="351" width="3" height="32" fill="#FF0000"/>
<rect x="582" y="358" width="3" height="25" fill="#FF0000"/>
<rect x="586" y="366" width="3" height="17" fill="#FF0000"/>
<rect x="590" y="370" width="3" height="13" fill="#FF0000"/>
<rect x="594" y="374" width="3" height="9" fill="#FF0000"/>
<rect x="598" y="376" width="3" height="7" fill="#FF0000"/>
<rect x="602" y="377" width="3" height="6" fill="#FF0000"/>
<rect x="606" y="378" width="3" height="5" fill="#FF0000"/>
<rect x="610" y="378" width="3" height="5" fill="#FF0000"/>
<rect x="614" y="377" width="3" height="6" fill="#008000"/>
<rect x="618" y="374" width="3" height="9" fill="#008000"/>
<rect x="622" y="371" width="3" height="12" fill="#008000"/>
<rect x="626" y="369" width="3" height="14" fill="#008000"/>
<rect x="630" y="366" width="3" height="17" fill="#008000"/>
<rect x="634" y="365" width="3" height="18" fill="#008000"/>
<rect x="638" y="367" width="3" height="16" fill="#FF0000"/>
<rect x="642" y="368" width="3" height="15" fill="#FF0000"/>
<rect x="646" y="370" width="3" height="13" fill="#FF0000"/>
<rect x="650" y="369" width="3" height="14" fill="#008000"/>
<rect x="654" y="372" width="3" height="11" fill="#FF0000"/>
<rect x="658" y="374" width="3" height="9" fill="#FF0000"/>
<rect x="662" y="377" width="3" height="6" fill="#FF0000"/>
<rect x="666" y="378" width="3" height="5" fill="#FF0000"/>
</g>
<path fill="#C0C0C0" d="M4 406h1v2h-1zM5 408h1v2h-1zM6 410h1v2h-1zM7 412h1v2h-1zM8 414h1v2h-1zM9 416h1v2h-1zM10 418h1v2h-1zM11 420h1v3h-1zM12 423h1v3h-1zM13 426h1v3h-1zM14 429h1v3h-1zM15 432h1v2h-1zM16 434h1v3h-1zM17 437h1v2h-1zM18 439h1v3h-1zM19 442h1v2h-1zM20 444h1v3h-1zM21 447h1v2h-1zM22 449h1v2h-1zM23 451h1v2h-1zM24 453h1v2h-1zM25 455h1v2h-1zM26 457h1v2h-1zM27 459h1v2h-1zM28 461h1v2h-1zM29 463h1v2h-1zM31 466h1v2h-1zM58 453h1v2h-1zM63 447h1v2h-1zM68 441h1v2h-1zM73 435h1v2h-1zM77 430h1v2h-1zM80 426h1v2h-1zM83 422h1v2h-1zM86 418h1v2h-1zM88 415h1v2h-1zM90 412h1v2h-1zM92 409h1v2h-1zM94 406h1v2h-1zM110 400h1v2h-1zM114 405h1v2h-1zM116 408h1v2h-1zM117 410h1v2h-1zM119 413h1v2h-1zM121 416h1v2h-1zM123 419h1v2h-1zM124 421h1v2h-1zM126 424h1v2h-1zM193 402h1v2h-1zM194 400h1v2h-1zM195 398h1v2h-1zM196 396h1v2h-1zM197 394h1v2h-1zM199 391h1v2h-1zM200 389h1v2h-1zM201 387h1v2h-1zM202 384h1v3h-1zM203 381h1v3h-1zM204 379h1v2h-1zM205 376h1v3h-1zM206 373h1v3h-1zM207 370h1v3h-1zM208 367h1v3h-1zM209 364h1v3h-1zM210 361h1v3h-1zM211 359h1v2h-1zM212 357h1v2h-1zM213 354h1v3h-1zM214 352h1v2h-1zM215 350h1v2h-1zM216 348h1v2h-1zM217 346h1v2h-1zM218 344h1v2h-1zM219 342h1v2h-1zM220 340h1v2h-1zM248 350h1v2h-1zM375 392h1v2h-1zM389 407h1v2h-1zM595 363h1v2h-1zM226 337h3v1h-3zM224 338h2v1h-2zM229 338h5v1h-5zM222 339h2v1h-2zM234 339h3v1h-3zM221 340h1v1h-1zM237 340h2v1h-2zM239 341h1v1h-1zM240 342h1v1h-1zM241 343h1v1h-1zM242 344h1v1h-1zM243 345h1v1h-1zM244 346h1v1h-1zM245 347h1v1h-1zM246 348h1v1h-1zM247 349h1v1h-1zM249 352h1v1h-1zM290 352h7v1h-7zM250 353h1v1h-1zM288 353h2v1h-2zM297 353h2v1h-2zM251 354h1v1h-1zM286 354h2v1h-2zM299 354h1v1h-1zM252 355h1v1h-1zM285 355h1v1h-1zM300 355h1v1h-1zM584 355h2v1h-2zM253 356h1v1h-1zM284 356h1v1h-1zM301 356h1v1h-1zM582 356h2v1h-2zM586 356h3v1h-3zM254 357h1v1h-1zM282 357h2v1h-2zM302 357h1v1h-1zM580 357h2v1h-2zM589 357h1v1h-1zM255 358h1v1h-1zM281 358h1v1h-1zM303 358h1v1h-1zM579 358h1v1h-1zM590 358h1v1h-1zM256 359h2v1h-2zM280 359h1v1h-1zM304 359h1v1h-1zM578 359h1v1h-1zM591 359h1v1h-1zM258 360h1v1h-1zM279 360h1v1h-1zM305 360h1v1h-1zM576 360h2v1h-2zM592 360h1v1h-1zM259 361h1v1h-1zM278 361h1v1h-1zM306 361h1v1h-1zM575 361h1v1h-1zM593 361h1v1h-1zM260 362h2v1h-2zM276 362h2v1h-2zM307 362h1v1h-1zM574 362h1v1h-1zM594 362h1v1h-1zM262 363h2v1h-2zM275 363h1v1h-1zM308 363h1v1h-1zM573 363h1v1h-1zM264 364h2v1h-2zM273 364h2v1h-2zM309 364h1v1h-1zM572 364h1v1h-1zM266 365h2v1h-2zM269 365h4v1h-4zM310 365h1v1h-1zM335 365h3v1h-3zM571 365h1v1h-1zM596 365h1v1h-1zM268 366h1v1h-1zM311 366h1v1h-1zM329 366h6v1h-6zM338 366h3v1h-3zM570 366h1v1h-1zM597 366h1v1h-1zM312 367h1v1h-1zM327 367h2v1h-2zM341 367h2v1h-2zM568 367h2v1h-2zM598 367h1v1h-1zM644 367h4v1h-4zM313 368h1v1h-1zM325 368h2v1h-2zM343 368h1v1h-1zM566 368h2v1h-2zM599 368h1v1h-1zM638 368h6v1h-6zM648 368h8v1h-8zM314 369h1v1h-1zM324 369h1v1h-1zM344 369h2v1h-2zM565 369h1v1h-1zM600 369h1v1h-1zM636 369h2v1h-2zM656 369h3v1h-3zM315 370h9v1h-9zM346 370h1v1h-1zM563 370h2v1h-2zM601 370h1v1h-1zM634 370h2v1h-2zM659 370h2v1h-2zM347 371h1v1h-1zM559 371h4v1h-4zM602 371h1v1h-1zM632 371h2v1h-2zM661 371h2v1h-2zM348 372h2v1h-2zM488 372h10v1h-10zM510 372h10v1h-10zM555 372h4v1h-4zM603 372h1v1h-1zM630 372h2v1h-2zM663 372h2v1h-2zM350 373h1v1h-1zM486 373h2v1h-2zM498 373h12v1h-12zM520 373h4v1h-4zM548 373h7v1h-7zM604 373h1v1h-1zM628 373h2v1h-2zM665 373h2v1h-2zM351 374h1v1h-1zM484 374h2v1h-2zM524 374h3v1h-3zM541 374h7v1h-7zM605 374h2v1h-2zM626 374h2v1h-2zM667 374h2v1h-2zM352 375h2v1h-2zM483 375h1v1h-1zM527 375h14v1h-14zM607 375h2v1h-2zM624 375h2v1h-2zM669 375h1v1h-1zM354 376h2v1h-2zM481 376h2v1h-2zM609 376h1v1h-1zM621 376h3v1h-3zM670 376h2v1h-2zM356 377h2v1h-2zM480 377h1v1h-1zM610 377h6v1h-6zM617 377h4v1h-4zM358 378h1v1h-1zM479 378h1v1h-1zM616 378h1v1h-1zM359 379h2v1h-2zM478 379h1v1h-1zM361 380h1v1h-1zM477 380h1v1h-1zM362 381h1v1h-1zM476 381h1v1h-1zM363 382h2v1h-2zM475 382h1v1h-1zM365 383h1v1h-1zM474 383h1v1h-1zM366 384h2v1h-2zM472 384h2v1h-2zM368 385h1v1h-1zM471 385h1v1h-1zM369 386h1v1h-1zM469 386h2v1h-2zM370 387h1v1h-1zM468 387h1v1h-1zM371 388h1v1h-1zM466 388h2v1h-2zM372 389h1v1h-1zM464 389h2v1h-2zM373 390h1v1h-1zM461 390h3v1h-3zM374 391h1v1h-1zM458 391h3v1h-3zM455 392h3v1h-3zM198 393h1v1h-1zM452 393h3v1h-3zM376 394h1v1h-1zM449 394h3v1h-3zM377 395h1v1h-1zM444 395h5v1h-5zM378 396h1v1h-1zM440 396h4v1h-4zM104 397h4v1h-4zM379 397h1v1h-1zM436 397h4v1h-4zM103 398h1v1h-1zM108 398h1v1h-1zM380 398h1v1h-1zM434 398h2v1h-2zM101 399h2v1h-2zM109 399h1v1h-1zM381 399h1v1h-1zM432 399h2v1h-2zM100 400h1v1h-1zM382 400h1v1h-1zM431 400h1v1h-1zM99 401h1v1h-1zM383 401h1v1h-1zM429 401h2v1h-2zM98 402h1v1h-1zM111 402h1v1h-1zM384 402h1v1h-1zM428 402h1v1h-1zM97 403h1v1h-1zM112 403h1v1h-1zM385 403h1v1h-1zM427 403h1v1h-1zM96 404h1v1h-1zM113 404h1v1h-1zM192 404h1v1h-1zM386 404h1v1h-1zM426 404h1v1h-1zM3 405h1v1h-1zM95 405h1v1h-1zM191 405h1v1h-1zM387 405h1v1h-1zM424 405h2v1h-2zM190 406h1v1h-1zM388 406h1v1h-1zM423 406h1v1h-1zM115 407h1v1h-1zM189 407h1v1h-1zM422 407h1v1h-1zM93 408h1v1h-1zM188 408h1v1h-1zM421 408h1v1h-1zM187 409h1v1h-1zM390 409h1v1h-1zM420 409h1v1h-1zM186 410h1v1h-1zM391 410h1v1h-1zM419 410h1v1h-1zM91 411h1v1h-1zM185 411h1v1h-1zM392 411h1v1h-1zM418 411h1v1h-1zM118 412h1v1h-1zM184 412h1v1h-1zM393 412h1v1h-1zM417 412h1v1h-1zM183 413h1v1h-1zM394 413h1v1h-1zM416 413h1v1h-1zM89 414h1v1h-1zM182 414h1v1h-1zM395 414h1v1h-1zM414 414h2v1h-2zM120 415h1v1h-1zM181 415h1v1h-1zM396 415h1v1h-1zM413 415h1v1h-1zM180 416h1v1h-1zM397 416h1v1h-1zM412 416h1v1h-1zM87 417h1v1h-1zM179 417h1v1h-1zM398 417h2v1h-2zM410 417h2v1h-2zM122 418h1v1h-1zM178 418h1v1h-1zM400 418h10v1h-10zM177 419h1v1h-1zM85 420h1v1h-1zM176 420h1v1h-1zM84 421h1v1h-1zM173 421h3v1h-3zM172 422h1v1h-1zM125 423h1v1h-1zM171 423h1v1h-1zM82 424h1v1h-1zM170 424h1v1h-1zM81 425h1v1h-1zM169 425h1v1h-1zM127 426h1v1h-1zM168 426h1v1h-1zM128 427h1v1h-1zM167 427h1v1h-1zM79 428h1v1h-1zM129 428h1v1h-1zM166 428h1v1h-1zM78 429h1v1h-1zM130 429h1v1h-1zM165 429h1v1h-1zM131 430h1v1h-1zM164 430h1v1h-1zM132 431h1v1h-1zM163 431h1v1h-1zM76 432h1v1h-1zM133 432h1v1h-1zM162 432h1v1h-1zM75 433h1v1h-1zM134 433h1v1h-1zM161 433h1v1h-1zM74 434h1v1h-1zM135 434h1v1h-1zM159 434h2v1h-2zM136 435h2v1h-2zM158 435h1v1h-1zM138 436h2v1h-2zM156 436h2v1h-2zM72 437h1v1h-1zM140 437h3v1h-3zM154 437h2v1h-2zM71 438h1v1h-1zM143 438h3v1h-3zM151 438h3v1h-3zM70 439h1v1h-1zM146 439h2v1h-2zM149 439h2v1h-2zM69 440h1v1h-1zM148 440h1v1h-1zM67 443h1v1h-1zM66 444h1v1h-1zM65 445h1v1h-1zM64 446h1v1h-1zM62 449h1v1h-1zM61 450h1v1h-1zM60 451h1v1h-1zM59 452h1v1h-1zM57 455h1v1h-1zM56 456h1v1h-1zM55 457h1v1h-1zM54 458h1v1h-1zM53 459h1v1h-1zM52 460h1v1h-1zM51 461h1v1h-1zM50 462h1v1h-1zM49 463h1v1h-1zM47 464h2v1h-2zM30 465h1v1h-1zM46 465h1v1h-1zM45 466h1v1h-1zM43 467h2v1h-2zM32 468h2v1h-2zM41 468h2v1h-2zM34 469h2v1h-2zM37 469h4v1h-4zM36 470h1v1h-1z"/>
<g id="frames" fill="#000">
<rect x="2" y="2" width="696" height="1" fill="#000"/>
<rect x="2" y="2" width="1" height="321" fill="#000"/>
<rect x="2" y="322" width="696" height="1" fill="#000"/>
<rect x="2" y="324" width="696" height="1" fill="#000"/>
<rect x="2" y="324" width="1" height="156" fill="#000"/>
<rect x="2" y="479" width="696" height="1" fill="#000"/>
<rect x="697" y="2" width="1" height="478" fill="#000"/>
</g>
<g id="ticks">
<rect x="698" y="22" width="2" height="1" fill="#000"/>
<rect x="698" y="55" width="2" height="1" fill="#000"/>
<rect x="698" y="88" width="2" height="1" fill="#000"/>
<rect x="698" y="121" width="2" height="1" fill="#000"/>
<rect x="698" y="154" width="2" height="1" fill="#000"/>
<rect x="698" y="187" width="2" height="1" fill="#000"/>
<rect x="698" y="220" width="2" height="1" fill="#000"/>
<rect x="698" y="253" width="2" height="1" fill="#000"/>
<rect x="698" y="286" width="2" height="1" fill="#000"/>
<rect x="698" y="319" width="2" height="1" fill="#000"/>
<rect x="698" y="326" width="2" height="1" fill="#000"/>
<rect x="698" y="383" width="2" height="1" fill="#000"/>
<rect x="698" y="478" width="2" height="1" fill="#000"/>
<rect x="3" y="480" width="1" height="3" fill="#000"/>
<rect x="67" y="480" width="1" height="3" fill="#000"/>
<rect x="131" y="480" width="1" height="3" fill="#000"/>
<rect x="195" y="480" width="1" height="3" fill="#000"/>
<rect x="259" y="480" width="1" height="3" fill="#000"/>
<rect x="323" y="480" width="1" height="3" fill="#000"/>
<rect x="387" y="480" width="1" height="3" fill="#000"/>
<rect x="451" y="480" width="1" height="3" fill="#000"/>
<rect x="515" y="480" width="1" height="3" fill="#000"/>
<rect x="579" y="480" width="1" height="3" fill="#000"/>
<rect x="643" y="480" width="1" height="3" fill="#000"/>
</g>
<g id="labels">
<text x="703.5" y="26" textLength="32" lengthAdjust="spacingAndGlyphs">1.27030</text>
<text x="703.5" y="59" textLength="32" lengthAdjust="spacingAndGlyphs">1.26770</text>
<text x="703.5" y="92" textLength="32" lengthAdjust="spacingAndGlyphs">1.26510</text>
<text x="703.5" y="125" textLength="32" lengthAdjust="spacingAndGlyphs">1.26250</text>
<text x="703.5" y="158" textLength="32" lengthAdjust="spacingAndGlyphs">1.26000</text>
<text x="703.5" y="191" textLength="32" lengthAdjust="spacingAndGlyphs">1.25745</text>
<text x="703.5" y="224" textLength="32" lengthAdjust="spacingAndGlyphs">1.25485</text>
<text x="703.5" y="257" textLength="32" lengthAdjust="spacingAndGlyphs">1.25230</text>
<text x="703.5" y="290" textLength="32" lengthAdjust="spacingAndGlyphs">1.24975</text>
<text x="703.5" y="323" textLength="32" lengthAdjust="spacingAndGlyphs">1.24720</text>
<rect x="699" y="14" width="41" height="11" fill="#FF0000"/>
<text x="703.5" y="23" textLength="32" lengthAdjust="spacingAndGlyphs" fill="#fff" style="stroke:#fff">1.27040</text>
<rect x="699" y="113" width="41" height="11" fill="#000"/>
<text x="703.5" y="122" textLength="32" lengthAdjust="spacingAndGlyphs" fill="#fff" style="stroke:#fff">1.26277</text>
<rect x="699" y="140" width="41" height="11" fill="#FF0000"/>
<text x="703.5" y="149" textLength="32" lengthAdjust="spacingAndGlyphs" fill="#fff" style="stroke:#fff">1.26062</text>
<rect x="699" y="240" width="41" height="11" fill="#FF0000"/>
<text x="703.5" y="249" textLength="32" lengthAdjust="spacingAndGlyphs" fill="#fff" style="stroke:#fff">1.25285</text>
<rect x="699" y="308" width="41" height="11" fill="#FF0000"/>
<text x="703.5" y="317" textLength="32" lengthAdjust="spacingAndGlyphs" fill="#fff" style="stroke:#fff">1.24757</text>
<text x="701" y="335" textLength="42" lengthAdjust="spacingAndGlyphs">0.0072029</text>
<text x="701" y="387" textLength="18" lengthAdjust="spacingAndGlyphs">0.00</text>
<text x="701" y="476" textLength="40.3" lengthAdjust="spacingAndGlyphs">-0.011884</text>
<rect x="6" y="9" width="7" height="1" fill="#000"/>
<rect x="7" y="10" width="5" height="1" fill="#000"/>
<rect x="8" y="11" width="3" height="1" fill="#000"/>
<rect x="9" y="12" width="1" height="1" fill="#000"/>
<text x="18.25" y="14" textLength="53.7" lengthAdjust="spacingAndGlyphs">GBPUSD,H1</text>
<text x="78.2" y="14" textLength="32" lengthAdjust="spacingAndGlyphs">1.26503</text>
<text x="114.4" y="14" textLength="32" lengthAdjust="spacingAndGlyphs">1.26541</text>
<text x="150.6" y="14" textLength="32" lengthAdjust="spacingAndGlyphs">1.26248</text>
<text x="186.8" y="14" textLength="32" lengthAdjust="spacingAndGlyphs">1.26277</text>
<text x="8" y="336" textLength="83.5" lengthAdjust="spacingAndGlyphs">MACD_color(5,34,5)</text>
<text x="95.5" y="336" textLength="46" lengthAdjust="spacingAndGlyphs">0.00000000</text>
<text x="146" y="336" textLength="46" lengthAdjust="spacingAndGlyphs">0.00000000</text>
<text x="197.5" y="336" textLength="46.5" lengthAdjust="spacingAndGlyphs">0.00081519</text>
<text x="2.5" y="492" textLength="51.5" lengthAdjust="spacingAndGlyphs">10 Dec 2018</text>
<text x="66.5" y="492" textLength="54.5" lengthAdjust="spacingAndGlyphs">11 Dec 06:00</text>
<text x="130.5" y="492" textLength="54.5" lengthAdjust="spacingAndGlyphs">11 Dec 22:00</text>
<text x="194.5" y="492" textLength="54.5" lengthAdjust="spacingAndGlyphs">12 Dec 14:00</text>
<text x="258.5" y="492" textLength="54.5" lengthAdjust="spacingAndGlyphs">13 Dec 06:00</text>
<text x="322.5" y="492" textLength="54.5" lengthAdjust="spacingAndGlyphs">13 Dec 22:00</text>
<text x="386.5" y="492" textLength="54.5" lengthAdjust="spacingAndGlyphs">14 Dec 14:00</text>
<text x="450.5" y="492" textLength="54.5" lengthAdjust="spacingAndGlyphs">17 Dec 07:00</text>
<text x="514.5" y="492" textLength="54.5" lengthAdjust="spacingAndGlyphs">17 Dec 23:00</text>
<text x="578.5" y="492" textLength="54.5" lengthAdjust="spacingAndGlyphs">18 Dec 15:00</text>
<text x="642.5" y="492" textLength="54.5" lengthAdjust="spacingAndGlyphs">19 Dec 07:00</text>
</g>
</svg></body></html>
